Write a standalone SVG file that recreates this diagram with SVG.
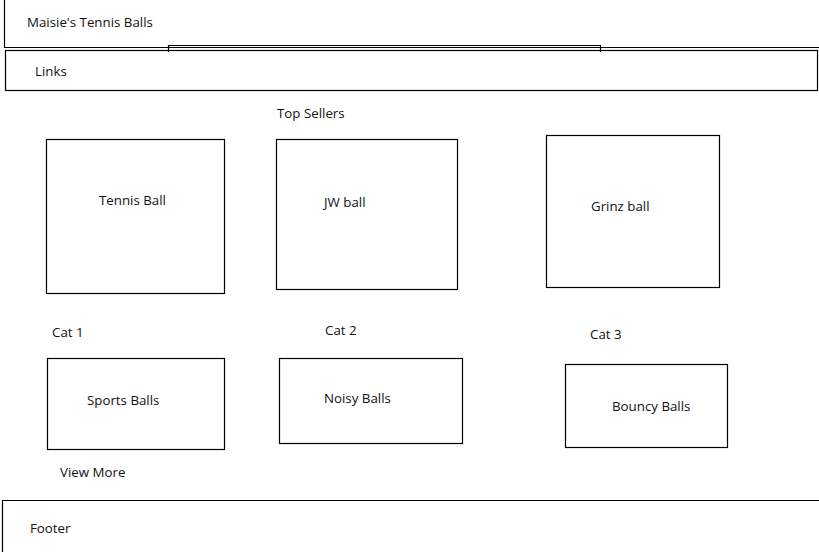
<svg xmlns="http://www.w3.org/2000/svg" width="819" height="552" viewBox="0 0 819 552">
<style>
.b{fill:none;stroke:#000;stroke-width:1.2}
text{font-family:"Open Sans","Liberation Sans",sans-serif;font-size:13.3px;fill:#111}
</style>
<rect width="819" height="552" fill="#fff"/>
<g id="header"><path class="b" d="M4.5,-2 V47.5 H822"/><text x="27" y="27">Maisie's Tennis Balls</text></g>
<g id="tab"><path class="b" d="M168.5,52 V45.5 H600.5 V52"/></g>
<g id="links"><rect class="b" x="5.5" y="50.5" width="812" height="40"/><text x="35" y="76">Links</text></g>
<g id="topsellers"><text x="277" y="118">Top Sellers</text></g>
<g id="tennis"><rect class="b" x="46.5" y="139.5" width="178" height="154"/><text x="99" y="205">Tennis Ball</text></g>
<g id="jw"><rect class="b" x="276.5" y="139.5" width="181" height="150"/><text x="324" y="207">JW ball</text></g>
<g id="grinz"><rect class="b" x="546.5" y="135.5" width="173" height="152"/><text x="591" y="211">Grinz ball</text></g>
<g id="cat1"><text x="52" y="337">Cat 1</text></g>
<g id="cat2"><text x="325" y="335">Cat 2</text></g>
<g id="cat3"><text x="590" y="339">Cat 3</text></g>
<g id="sports"><rect class="b" x="47.5" y="358.5" width="177" height="91"/><text x="87" y="405">Sports Balls</text></g>
<g id="noisy"><rect class="b" x="279.5" y="358.5" width="183" height="85"/><text x="324" y="403">Noisy Balls</text></g>
<g id="bouncy"><rect class="b" x="565.5" y="364.5" width="162" height="83"/><text x="612" y="411">Bouncy Balls</text></g>
<g id="viewmore"><text x="60" y="477">View More</text></g>
<g id="footer"><path class="b" d="M2.5,555 V500.5 H822"/><text x="30" y="533">Footer</text></g>
<g id="connectors"/>
</svg>
